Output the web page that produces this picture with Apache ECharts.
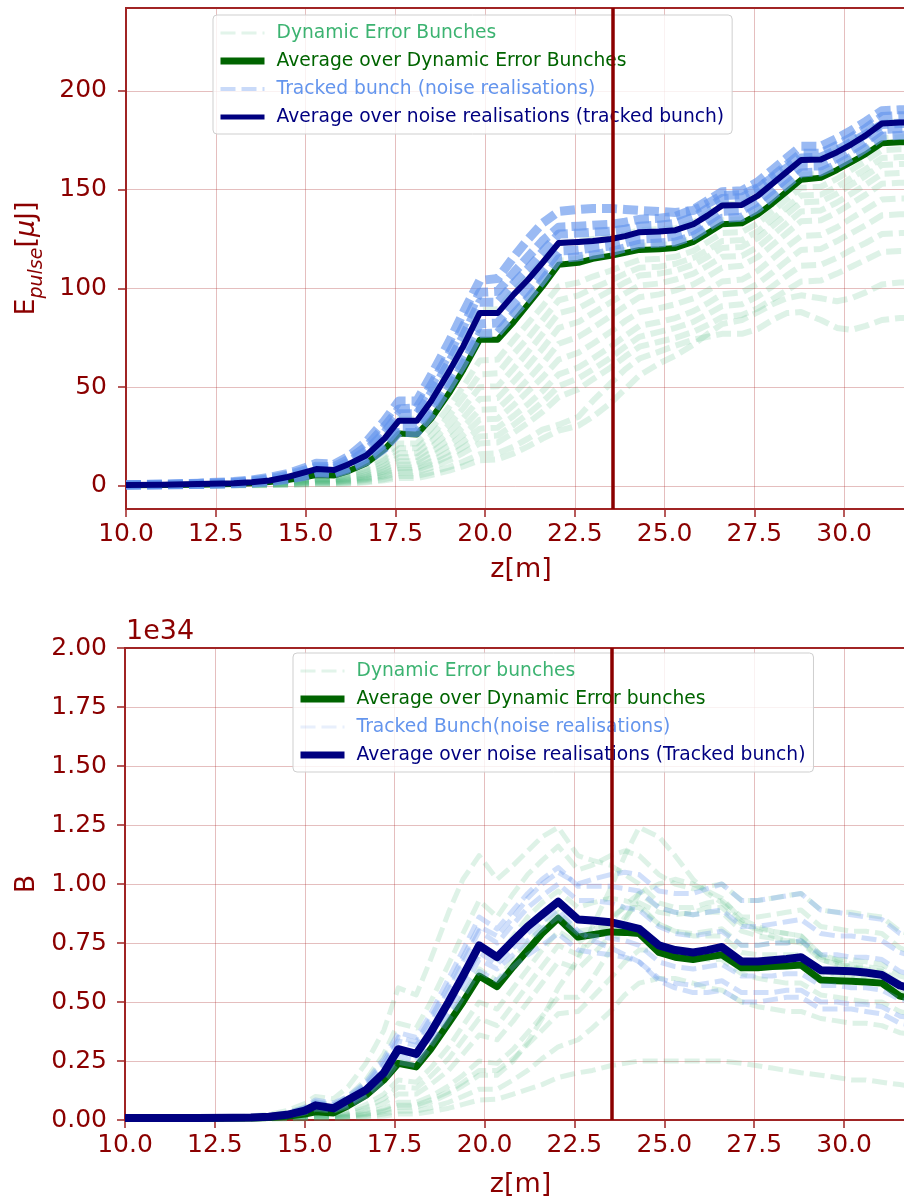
<!DOCTYPE html>
<html>
<head>
<meta charset="utf-8">
<script src="https://cdn.jsdelivr.net/npm/echarts@6/dist/echarts.min.js"></script>
<style>
  html, body { margin: 0; padding: 0; background: #ffffff; }
  #chart { width: 904px; height: 1199px; }
</style>
</head>
<body>
<div id="chart"></div>
<script>
// ---- longitudinal positions along the undulator line [m] ----
const Z = [10, 11, 12, 13, 13.5, 14, 14.5, 15, 15.3, 15.8,
  16.2, 16.7, 17.2, 17.6, 18.1, 18.5, 19.0, 19.4, 19.85, 20.35,
  20.8, 21.2, 21.6, 22.05, 22.6, 23.0, 23.5, 23.9, 24.3, 24.85,
  25.3, 25.8, 26.2, 26.6, 27.15, 27.6, 28.0, 28.4, 28.8, 29.35,
  29.8, 30.2, 30.6, 31.05, 31.55, 32.0];
const Z_MIN = 10;
const Z_MAX = 32;
const Z_MARK = 23.55;           // vertical marker position [m]
const X_TICKS_STEP = 2.5;

// ---- pulse energy [uJ] ----
const E_AVG_TRACKED = [0.5,0.6,0.9,1.4,1.9,2.7,4.5,7.0,8.5,8.0,
  11,15.5,24,33,33,43,58,71,87.5,87.5,
  97,104.5,113,123,123.5,124,125,126.5,128.5,128.8,
  129.5,132.5,137,142,142.3,147,153,159,165,165.3,
  169,173,177.5,183.5,184,184];
const E_AVG_DYNAMIC = [0.3,0.4,0.6,1.0,1.4,2.0,3.0,4.5,5.5,5.3,
  7.5,11.5,18.5,26.5,26,34,47,59,74,74,
  83,92,101,112,113,115,116.5,118,119.5,119.8,
  120.5,123.5,128,132.5,133,137.5,143,149,155,156,
  160,164,168,173.5,174,174];
const E_TRACKED_RUNS = [
  [0.6,0.8,1.2,1.9,2.6,3.7,5.5,8.2,10,9.8,13.5,20,30,39,39.5,51,67,81,98,98.5,108,116,124,131,131.5,132,132.5,133.5,135,135.5,136.5,140,144.5,149,149.5,154,160,166,172,172,176,180,184.5,190,190.5,190.5],
  [0.4,0.5,0.7,1.1,1.5,2.1,3.2,5,6.5,6.2,8.5,12.5,19,27,27,36,50,62,77,77.5,87,95,104,115,116,117,118.5,120.5,122.5,123,123.5,126.5,131,135.5,136,140.5,146.5,152.5,158.5,159,162.5,166.5,171,177,177.5,177.5],
  [0.5,0.7,1.0,1.6,2.2,3.1,4.8,7.5,9.2,8.8,12,18,27,36.5,36.5,47,62.5,76,93,93,102.5,110,118.5,127.5,128,128.5,129,130,131.5,132,133,136,140.5,145.5,146,150.5,156.5,162.5,168.5,168.5,172.5,176.5,181,187,187.5,187.5],
  [0.45,0.55,0.8,1.2,1.7,2.4,3.6,5.4,7,6.8,9.2,14,21.5,30,30,39.5,54,66.5,82,82.5,92,100,108.5,119,119.5,120.5,121.5,123,125,125.5,126.5,129.5,134,139,139.5,144,150,156,162,162,166,170,174.5,180.5,181,181],
  [0.6,0.9,1.4,2.2,3,4.3,6.3,9.3,11.5,11,15,22.5,33,43,43,56,73,88,104,105,116,125,133,139,140,140.5,140.5,140,139.5,139,138.5,139.5,143,147,147.5,151,156,161,166,166.5,170,174,178,183,183.5,183.5]
];
const E_DYNAMIC_BUNCHES = [
  [0.5,0.6,0.9,1.4,1.9,2.7,4.2,6.2,7.8,7.6,10.5,16,25,34,34,44,60,73,89,89.5,99,106,114,123,124,125,126,127.5,129.5,130,130.5,133.5,138,142.5,143,147.5,153.5,159.5,165.5,166,170,174,178.5,184,184.5,184.5],
  [0.4,0.5,0.7,1.1,1.5,2.1,3.2,4.8,6.2,6,8.3,12.5,19.5,27.5,27.5,36,50,62,77,77.5,87,95,104,114,115,116.5,118,119.5,121.5,122,122.5,125.5,130,134.5,135,139.5,145.5,151.5,157.5,158,162,166,170.5,176,176.5,176.5],
  [0.3,0.4,0.6,0.9,1.2,1.7,2.5,3.7,4.8,4.7,6.4,9.5,15,21.5,21.5,29,40,50.5,63.5,64,74,82.5,91,101,103,106,109,112,114.5,115,116,119,123.5,128,128.5,133,139,145,151,151.5,155.5,160,164.5,170,170.5,170.5],
  [0.3,0.35,0.55,0.8,1.1,1.5,2.2,3.2,4.2,4.1,5.6,8.3,13.2,19,19,25.5,35.5,45,56.5,57,67,75,84,94,96.5,100,104,107.5,110.5,111,112.5,115.5,119.5,124,124.5,129,135,141,147,147.5,151.5,156,160.5,166,166.5,166.5],
  [0.3,0.3,0.5,0.7,1,1.3,1.9,2.8,3.6,3.5,4.8,7.2,11.5,16.5,16.5,22.5,31,39.5,50,50.5,59.5,68,77,87.5,90,94,99,103,106.5,107.5,109,112,116,120.5,121,125.5,131.5,137.5,143.5,144,148,152.5,157,162.5,163,163],
  [0.25,0.3,0.45,0.65,0.9,1.15,1.65,2.4,3.1,3,4.2,6.3,10,14.5,14.5,19.5,27,34.5,44,44.5,53,61,69.5,80,83,87.5,93,97.5,101.5,102.5,104.5,107.5,111.5,116,116.5,121,127,133,139,139.5,143.5,148,152.5,158,158.5,158.5],
  [0.2,0.3,0.4,0.6,0.8,1,1.4,2.1,2.7,2.6,3.6,5.4,8.6,12.5,12.5,17,23.5,30,38.5,39,46.5,54,62,72,75.5,80,86,91,95.5,97,99,102,106,110.5,111.5,116,122,128,134,134.5,138.5,143,147.5,153,153.5,153.5],
  [0.2,0.25,0.35,0.55,0.7,0.9,1.25,1.85,2.35,2.3,3.1,4.7,7.5,10.8,10.9,14.7,20.5,26,33.5,34,41,48,55,64,67.5,72,78,83.5,88,90,92,95,99,103.5,104.5,109,115,121,126.5,127,131,135.5,140,145,145.5,145.5],
  [0.2,0.2,0.3,0.5,0.6,0.8,1.1,1.6,2,2,2.7,4,6.4,9.2,9.3,12.5,17.5,22.5,29,29.5,35.5,41.5,48,56.5,60,64.5,70.5,76,81,83,85,88.5,92.5,97,98,102.5,108,114,119.5,120,124,128,132,137,137.5,137.5],
  [0.15,0.2,0.3,0.45,0.55,0.7,0.95,1.4,1.75,1.75,2.35,3.5,5.5,8,8.1,10.9,15.2,19.6,25,25.5,31,36.5,42.5,50.5,54.5,59,65,70.5,75.5,78,80,83,87,91,92,96,101,106.5,111.5,112,115.5,119.5,123,127.5,128,128],
  [0.1,0.2,0.3,0.4,0.5,0.6,0.8,1.2,1.5,1.5,2,3,4.7,6.8,6.9,9.3,13,16.8,21.5,22,27,32,37.5,45,49,54,60,65.5,70.5,73,75,78,81.5,85.5,86.5,90,94.5,99,103.5,104,107.5,111,114.5,118.5,119,119],
  [0.1,0.1,0.2,0.3,0.4,0.5,0.6,0.9,1.1,1.1,1.5,2.2,3.4,5,5,6.8,9.5,12.3,16,16.5,20,24,28.5,31,35,43,52,59,64.5,68,71,74,75.5,77,77,79.5,84,87.5,88,84,80,79,81,84,85,85],
  [0.1,0.1,0.2,0.3,0.3,0.4,0.5,0.7,0.9,0.9,1.2,1.8,2.8,4,4,5.5,7.7,10,13,13.5,16.5,20,24,28,30.5,35,42,49,56,62,66,71.5,77,82,84,88,92,95,96.5,95,93.5,95,98,102,103,103]
];

// ---- brightness B [1e34] ----
const B_AVG_TRACKED = [0.008,0.008,0.009,0.01,0.011,0.014,0.022,0.04,0.062,0.05,
  0.085,0.127,0.2,0.3,0.28,0.37,0.5,0.61,0.74,0.69,
  0.76,0.82,0.87,0.925,0.85,0.845,0.838,0.825,0.81,0.74,
  0.72,0.71,0.72,0.733,0.672,0.672,0.677,0.682,0.69,0.635,
  0.632,0.63,0.625,0.615,0.57,0.55];
const B_AVG_DYNAMIC = [0.006,0.006,0.007,0.008,0.009,0.011,0.016,0.025,0.035,0.03,
  0.06,0.105,0.17,0.24,0.225,0.3,0.41,0.5,0.61,0.565,
  0.65,0.72,0.79,0.855,0.775,0.785,0.797,0.795,0.79,0.71,
  0.69,0.68,0.69,0.7,0.645,0.645,0.65,0.653,0.657,0.593,
  0.59,0.588,0.585,0.58,0.525,0.51];
const B_TRACKED_RUNS = [
  [0.009,0.01,0.011,0.013,0.015,0.019,0.03,0.055,0.085,0.072,0.1,0.16,0.26,0.37,0.35,0.45,0.6,0.72,0.86,0.81,0.89,0.96,1.02,1.07,0.99,0.99,0.99,0.98,0.97,0.9,0.88,0.87,0.88,0.89,0.82,0.82,0.83,0.84,0.85,0.79,0.78,0.78,0.77,0.76,0.71,0.69],
  [0.007,0.007,0.008,0.009,0.01,0.012,0.017,0.03,0.045,0.038,0.058,0.1,0.165,0.245,0.23,0.31,0.42,0.52,0.63,0.59,0.65,0.7,0.74,0.79,0.72,0.71,0.7,0.69,0.67,0.6,0.58,0.57,0.58,0.59,0.54,0.54,0.54,0.55,0.55,0.5,0.5,0.49,0.49,0.48,0.44,0.43],
  [0.008,0.009,0.01,0.011,0.013,0.016,0.025,0.047,0.072,0.06,0.088,0.143,0.232,0.335,0.315,0.41,0.55,0.67,0.8,0.75,0.83,0.9,0.95,1.0,0.93,0.93,0.92,0.9,0.89,0.82,0.79,0.78,0.79,0.8,0.74,0.74,0.75,0.75,0.76,0.7,0.7,0.69,0.69,0.68,0.63,0.61],
  [0.007,0.008,0.009,0.01,0.011,0.013,0.019,0.034,0.052,0.043,0.065,0.11,0.18,0.27,0.25,0.335,0.45,0.56,0.68,0.64,0.7,0.76,0.81,0.86,0.79,0.78,0.77,0.76,0.74,0.67,0.65,0.64,0.65,0.66,0.61,0.61,0.61,0.62,0.62,0.57,0.57,0.56,0.56,0.55,0.51,0.5],
  [0.008,0.009,0.01,0.012,0.014,0.017,0.027,0.05,0.078,0.066,0.095,0.152,0.245,0.35,0.33,0.43,0.57,0.69,0.82,0.78,0.86,0.94,1.0,1.05,1.0,1.02,1.04,1.05,1.04,0.97,0.96,0.96,0.98,1.0,0.93,0.93,0.94,0.95,0.96,0.89,0.88,0.87,0.86,0.85,0.79,0.77],
  [0.007,0.008,0.009,0.01,0.012,0.014,0.021,0.038,0.058,0.048,0.072,0.12,0.195,0.29,0.27,0.355,0.48,0.59,0.71,0.66,0.73,0.79,0.84,0.89,0.8,0.76,0.73,0.7,0.67,0.59,0.56,0.54,0.54,0.55,0.5,0.5,0.51,0.52,0.52,0.47,0.47,0.47,0.46,0.45,0.41,0.4]
];
const B_DYNAMIC_BUNCHES = [
  [0.008,0.009,0.011,0.014,0.017,0.024,0.04,0.07,0.1,0.09,0.14,0.24,0.38,0.56,0.53,0.68,0.88,1.02,1.12,1.02,1.08,1.14,1.2,1.24,1.12,1.1,1.08,1.04,1.0,0.92,0.9,0.9,0.92,0.93,0.86,0.86,0.87,0.88,0.89,0.82,0.81,0.8,0.8,0.79,0.73,0.7],
  [0.007,0.008,0.009,0.011,0.013,0.018,0.03,0.052,0.075,0.065,0.1,0.17,0.28,0.41,0.39,0.5,0.66,0.79,0.93,0.86,0.96,1.04,1.1,1.16,1.06,1.08,1.12,1.14,1.12,1.04,1.0,0.98,0.99,1.0,0.93,0.93,0.94,0.95,0.96,0.89,0.88,0.88,0.87,0.86,0.8,0.78],
  [0.006,0.007,0.008,0.009,0.011,0.013,0.02,0.033,0.048,0.042,0.065,0.12,0.2,0.3,0.28,0.37,0.5,0.61,0.73,0.68,0.78,0.86,0.92,0.97,0.9,0.92,0.94,0.93,0.91,0.83,0.8,0.79,0.8,0.81,0.74,0.74,0.75,0.75,0.76,0.69,0.68,0.68,0.67,0.66,0.61,0.59],
  [0.006,0.006,0.007,0.008,0.009,0.011,0.016,0.026,0.037,0.032,0.053,0.1,0.17,0.25,0.235,0.31,0.43,0.53,0.64,0.59,0.68,0.75,0.82,0.88,0.8,0.81,0.82,0.82,0.81,0.73,0.71,0.7,0.71,0.72,0.66,0.66,0.67,0.67,0.68,0.61,0.61,0.6,0.6,0.59,0.54,0.52],
  [0.005,0.005,0.006,0.007,0.008,0.009,0.012,0.018,0.025,0.022,0.035,0.065,0.11,0.17,0.16,0.22,0.31,0.4,0.5,0.47,0.56,0.64,0.72,0.8,0.75,0.8,0.86,0.9,0.9,0.83,0.8,0.78,0.78,0.78,0.71,0.7,0.7,0.7,0.7,0.63,0.62,0.61,0.6,0.59,0.54,0.52],
  [0.005,0.005,0.006,0.007,0.008,0.009,0.011,0.016,0.021,0.019,0.029,0.052,0.09,0.14,0.135,0.185,0.26,0.34,0.43,0.4,0.49,0.57,0.65,0.74,0.7,0.76,0.84,0.91,0.96,0.9,0.88,0.87,0.88,0.88,0.8,0.78,0.77,0.76,0.76,0.68,0.66,0.65,0.64,0.63,0.57,0.55],
  [0.004,0.004,0.005,0.006,0.007,0.008,0.01,0.014,0.018,0.016,0.024,0.042,0.072,0.11,0.11,0.15,0.21,0.28,0.36,0.34,0.42,0.5,0.58,0.67,0.64,0.7,0.78,0.86,0.92,0.88,0.87,0.88,0.9,0.9,0.83,0.81,0.8,0.79,0.78,0.7,0.68,0.66,0.65,0.64,0.58,0.56],
  [0.003,0.004,0.004,0.005,0.006,0.007,0.008,0.011,0.014,0.013,0.018,0.03,0.05,0.075,0.075,0.1,0.145,0.19,0.25,0.24,0.3,0.37,0.44,0.52,0.52,0.6,0.72,0.84,0.96,1.0,1.02,1.0,0.97,0.94,0.85,0.82,0.8,0.79,0.78,0.7,0.67,0.65,0.63,0.62,0.57,0.55],
  [0.003,0.003,0.004,0.005,0.005,0.006,0.007,0.01,0.012,0.012,0.016,0.025,0.04,0.062,0.063,0.085,0.12,0.16,0.21,0.21,0.26,0.32,0.38,0.45,0.46,0.52,0.6,0.67,0.72,0.72,0.71,0.69,0.68,0.68,0.62,0.6,0.59,0.58,0.58,0.53,0.52,0.51,0.5,0.5,0.46,0.44],
  [0.003,0.003,0.004,0.004,0.005,0.006,0.007,0.009,0.011,0.01,0.014,0.022,0.036,0.054,0.055,0.075,0.11,0.145,0.19,0.19,0.25,0.33,0.43,0.56,0.68,0.82,0.98,1.12,1.24,1.2,1.12,1.02,0.96,0.92,0.84,0.8,0.78,0.76,0.75,0.68,0.66,0.64,0.63,0.62,0.57,0.55],
  [0.002,0.003,0.003,0.004,0.004,0.005,0.006,0.007,0.008,0.008,0.011,0.016,0.025,0.037,0.038,0.052,0.075,0.1,0.13,0.13,0.17,0.21,0.26,0.31,0.34,0.39,0.46,0.53,0.58,0.6,0.6,0.58,0.56,0.55,0.5,0.48,0.47,0.46,0.46,0.43,0.42,0.41,0.41,0.4,0.37,0.36],
  [0.002,0.002,0.002,0.003,0.003,0.004,0.004,0.005,0.006,0.006,0.008,0.011,0.017,0.025,0.026,0.035,0.05,0.066,0.085,0.088,0.11,0.13,0.15,0.18,0.2,0.21,0.23,0.24,0.25,0.25,0.25,0.25,0.25,0.25,0.24,0.23,0.22,0.21,0.2,0.19,0.18,0.17,0.17,0.16,0.15,0.14]
];

// ---- axis ranges ----
const E_MIN = -11.7, E_MAX = 242;
const B_MIN = 0, B_MAX = 2, B_STEP = 0.25;

// ---- legend labels ----
const TOP_NAMES = ['Dynamic Error Bunches', 'Average over Dynamic Error Bunches',
  'Tracked bunch (noise realisations)', 'Average over noise realisations (tracked bunch)'];
const BOT_NAMES = ['Dynamic Error bunches', 'Average over Dynamic Error bunches',
  'Tracked Bunch(noise realisations)', 'Average over noise realisations (Tracked bunch)'];

// ---- styling ----
const FONT = 'DejaVu Sans';
const TXT = '#8b0000';
const SPINE = '#a02424';
const GRID_LINE = 'rgba(170,40,40,0.3)';
const C_DYN = '#3cb371', C_DYN_AVG = '#006400', C_TRK = '#6495ed', C_TRK_AVG = '#000080';
const DASH = [15, 6];

const pts = vals => Z.map((z, i) => [z, vals[i]]);

function lineSeries(name, panel, vals, color, width, opacity, dashed) {
  return {
    type: 'line', name, xAxisIndex: panel, yAxisIndex: panel,
    data: pts(vals), symbol: 'none', silent: true, animation: false,
    lineStyle: { color, width, opacity, type: dashed ? DASH : 'solid', cap: 'butt', join: 'round' },
    itemStyle: { color, opacity },
    emphasis: { disabled: true }
  };
}

function markerSeries(panel) {
  return {
    type: 'line', name: 'marker' + panel, xAxisIndex: panel, yAxisIndex: panel,
    data: [], silent: true, animation: false,
    markLine: {
      silent: true, symbol: ['none', 'none'], animation: false,
      label: { show: false },
      lineStyle: { color: '#8b0000', width: 3.5, type: 'solid', opacity: 1 },
      data: [{ xAxis: Z_MARK }]
    }
  };
}

function panelSeries(panel, names, dyn, dynAvg, trk, trkAvg, s) {
  const out = [markerSeries(panel)];
  dyn.forEach(v => out.push(lineSeries(names[0], panel, v, C_DYN, s.dynW, s.dynOp, true)));
  out.push(lineSeries(names[1], panel, dynAvg, C_DYN_AVG, s.dynAvgW, 1, false));
  trk.forEach(v => out.push(lineSeries(names[2], panel, v, C_TRK, s.trkW, s.trkOp, true)));
  out.push(lineSeries(names[3], panel, trkAvg, C_TRK_AVG, s.trkAvgW, 1, false));
  return out;
}

function xAxisCfg(gridIndex, nameGap) {
  return {
    type: 'value', gridIndex, min: Z_MIN, max: Z_MAX, interval: X_TICKS_STEP,
    name: 'z[m]', nameLocation: 'middle', nameGap,
    nameTextStyle: { color: TXT, fontFamily: FONT, fontSize: 27 },
    axisLine: { show: true, onZero: false, lineStyle: { color: SPINE, width: 2 } },
    axisTick: { show: true, length: 8, lineStyle: { color: SPINE, width: 1.5 } },
    axisLabel: { color: TXT, fontFamily: FONT, fontSize: 25, margin: 13,
      showMaxLabel: false, formatter: v => v.toFixed(1) },
    splitLine: { show: true, lineStyle: { color: GRID_LINE, width: 1 } }
  };
}

function legendCfg(left, top, names, handleWidths, handleOps) {
  const colors = [C_DYN, C_DYN_AVG, C_TRK, C_TRK_AVG];
  const dashes = [DASH, 'solid', DASH, 'solid'];
  return {
    orient: 'vertical', left, top, padding: [8, 8, 7, 4], itemGap: 8,
    itemWidth: 44, itemHeight: 14,
    backgroundColor: 'rgba(255,255,255,0.8)', borderColor: '#cfcfcf',
    borderWidth: 1, borderRadius: 4, selectedMode: false,
    itemStyle: { opacity: 0 },
    textStyle: { fontFamily: FONT, fontSize: 18.7, lineHeight: 20, padding: [0, 0, 0, 7] },
    data: names.map((n, i) => ({
      name: n,
      itemStyle: { opacity: 0 },
      lineStyle: { width: handleWidths[i], opacity: handleOps[i], type: dashes[i], color: colors[i] },
      textStyle: { color: colors[i] }
    }))
  };
}

const chart = echarts.init(document.getElementById('chart'), null, { renderer: 'canvas' });

chart.setOption({
  animation: false,
  backgroundColor: '#ffffff',
  title: [{
    text: '1e34', left: 126, top: 618, padding: 0,
    textStyle: { color: TXT, fontFamily: FONT, fontSize: 27, fontWeight: 'normal' }
  }],
  legend: [
    legendCfg(213, 15, TOP_NAMES, [3, 7, 4, 5], [0.15, 1, 0.35, 1]),
    legendCfg(293, 653, BOT_NAMES, [3, 7, 3, 7], [0.15, 1, 0.15, 1])
  ],
  grid: [
    { left: 126, top: 8, width: 790, height: 501, show: true, borderColor: SPINE, borderWidth: 2,
      outerBoundsMode: 'none', containLabel: false },
    { left: 125, top: 648, width: 791, height: 472, show: true, borderColor: SPINE, borderWidth: 2,
      outerBoundsMode: 'none', containLabel: false }
  ],
  xAxis: [xAxisCfg(0, 47), xAxisCfg(1, 51)],
  yAxis: [
    {
      type: 'value', gridIndex: 0, min: E_MIN, max: E_MAX, splitNumber: 5,
      name: '{e|E}{s|pulse}{e|[}{m|μ}{e|J]}', nameLocation: 'middle', nameGap: 79, nameRotate: 90,
      nameTextStyle: {
        color: TXT, fontFamily: FONT, fontSize: 27,
        rich: {
          e: { color: TXT, fontFamily: FONT, fontSize: 27, lineHeight: 40, verticalAlign: 'middle' },
          m: { color: TXT, fontFamily: FONT, fontSize: 27, fontStyle: 'italic', lineHeight: 40, verticalAlign: 'middle' },
          s: { color: TXT, fontFamily: FONT, fontSize: 19, fontStyle: 'italic', lineHeight: 40, verticalAlign: 'bottom' }
        }
      },
      axisLine: { show: true, lineStyle: { color: SPINE, width: 2 } },
      axisTick: { show: true, length: 8, lineStyle: { color: SPINE, width: 1.5 } },
      axisLabel: { color: TXT, fontFamily: FONT, fontSize: 25, margin: 19,
        showMinLabel: false, showMaxLabel: false },
      splitLine: { show: true, lineStyle: { color: GRID_LINE, width: 1 } }
    },
    {
      type: 'value', gridIndex: 1, min: B_MIN, max: B_MAX, interval: B_STEP,
      name: 'B', nameLocation: 'middle', nameGap: 85, nameRotate: 90,
      nameTextStyle: { color: TXT, fontFamily: FONT, fontSize: 27 },
      axisLine: { show: true, lineStyle: { color: SPINE, width: 2 } },
      axisTick: { show: true, length: 8, lineStyle: { color: SPINE, width: 1.5 } },
      axisLabel: { color: TXT, fontFamily: FONT, fontSize: 25, margin: 18,
        formatter: v => v.toFixed(2) },
      splitLine: { show: true, lineStyle: { color: GRID_LINE, width: 1 } }
    }
  ],
  series: [
    ...panelSeries(0, TOP_NAMES, E_DYNAMIC_BUNCHES, E_AVG_DYNAMIC, E_TRACKED_RUNS, E_AVG_TRACKED,
      { dynW: 6, dynOp: 0.17, dynAvgW: 6, trkW: 9, trkOp: 0.65, trkAvgW: 6 }),
    ...panelSeries(1, BOT_NAMES, B_DYNAMIC_BUNCHES, B_AVG_DYNAMIC, B_TRACKED_RUNS, B_AVG_TRACKED,
      { dynW: 5, dynOp: 0.17, dynAvgW: 7, trkW: 5, trkOp: 0.3, trkAvgW: 8 })
  ]
});
</script>
</body>
</html>
